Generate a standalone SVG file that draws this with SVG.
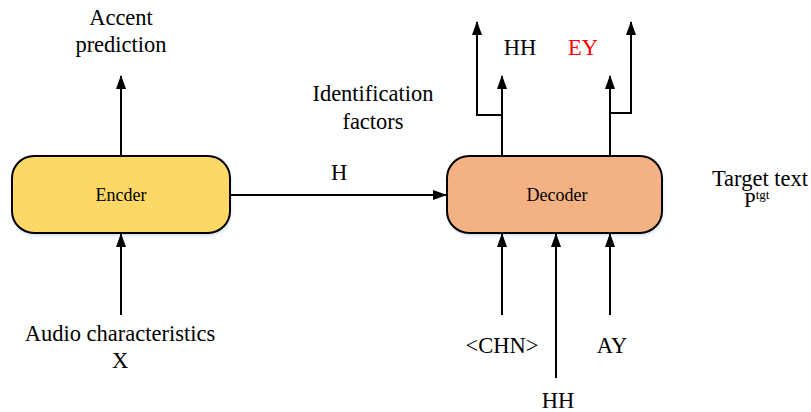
<svg xmlns="http://www.w3.org/2000/svg" width="811" height="412" viewBox="0 0 811 412">
  <defs>
    <marker id="arrow" markerUnits="userSpaceOnUse" markerWidth="14" markerHeight="10" refX="13" refY="5" orient="auto">
      <path d="M0,0 L14,5 L0,10 Z" fill="#000"/>
    </marker>
    <filter id="shadow" x="-10%" y="-10%" width="120%" height="130%">
      <feGaussianBlur stdDeviation="1.5"/>
    </filter>
  </defs>
  <style>
    text { font-family: "Liberation Serif", "Times New Roman", serif; fill: #000; text-anchor: middle; }
    .lbl { font-size: 22.5px; }
    .node-text { font-size: 18px; }
    .box { stroke: #000; stroke-width: 2; }
    .shade { fill: #d6e2f0; filter: url(#shadow); }
    .wire { fill: none; stroke: #000; stroke-width: 2; }
    .arr { marker-end: url(#arrow); }
  </style>
  <rect width="811" height="412" fill="#fff"/>

  <!-- Encoder node -->
  <g id="encoder">
    <rect class="shade" x="13" y="159" width="218" height="77" rx="22"/>
    <rect class="box" x="12" y="156" width="218" height="77" rx="22" fill="#FDD866"/>
    <text class="node-text" x="121" y="201">Encder</text>
  </g>

  <!-- Decoder node -->
  <g id="decoder">
    <rect class="shade" x="448" y="159" width="215" height="77" rx="22"/>
    <rect class="box" x="447" y="156" width="215" height="77" rx="22" fill="#F4B183"/>
    <text class="node-text" x="557" y="201">Decoder</text>
  </g>

  <!-- Connectors -->
  <g id="connectors">
    <line class="wire arr" x1="121" y1="156" x2="121" y2="76"/>
    <line class="wire arr" x1="121" y1="315" x2="121" y2="234"/>
    <line class="wire arr" x1="230" y1="195" x2="446" y2="195"/>
    <polyline class="wire arr" points="502,156 502,76"/>
    <polyline class="wire arr" points="502,115 477,115 477,22"/>
    <polyline class="wire arr" points="610,156 610,76"/>
    <polyline class="wire arr" points="610,113 631,113 631,22"/>
    <line class="wire arr" x1="502" y1="315" x2="502" y2="234"/>
    <line class="wire arr" x1="556" y1="378" x2="556" y2="234"/>
    <line class="wire arr" x1="610" y1="315" x2="610" y2="234"/>
  </g>

  <!-- Labels -->
  <g id="labels">
    <text class="lbl" x="121" y="25">Accent</text>
    <text class="lbl" x="121" y="52">prediction</text>
    <text class="lbl" x="373" y="101">Identification</text>
    <text class="lbl" x="373" y="129">factors</text>
    <text class="lbl" x="339" y="180">H</text>
    <text class="lbl" x="520" y="55">HH</text>
    <text class="lbl" x="583" y="55" style="fill:#ff0000">EY</text>
    <text class="lbl" x="760" y="186">Target text</text>
    <text x="744" y="207" style="text-anchor:start;font-size:21px">P<tspan font-size="13" dy="-8">tgt</tspan></text>
    <text class="lbl" x="120" y="341">Audio characteristics</text>
    <text class="lbl" x="120" y="368">X</text>
    <text class="lbl" x="502" y="353">&lt;CHN&gt;</text>
    <text class="lbl" x="612" y="353">AY</text>
    <text class="lbl" x="558" y="408">HH</text>
  </g>
</svg>
